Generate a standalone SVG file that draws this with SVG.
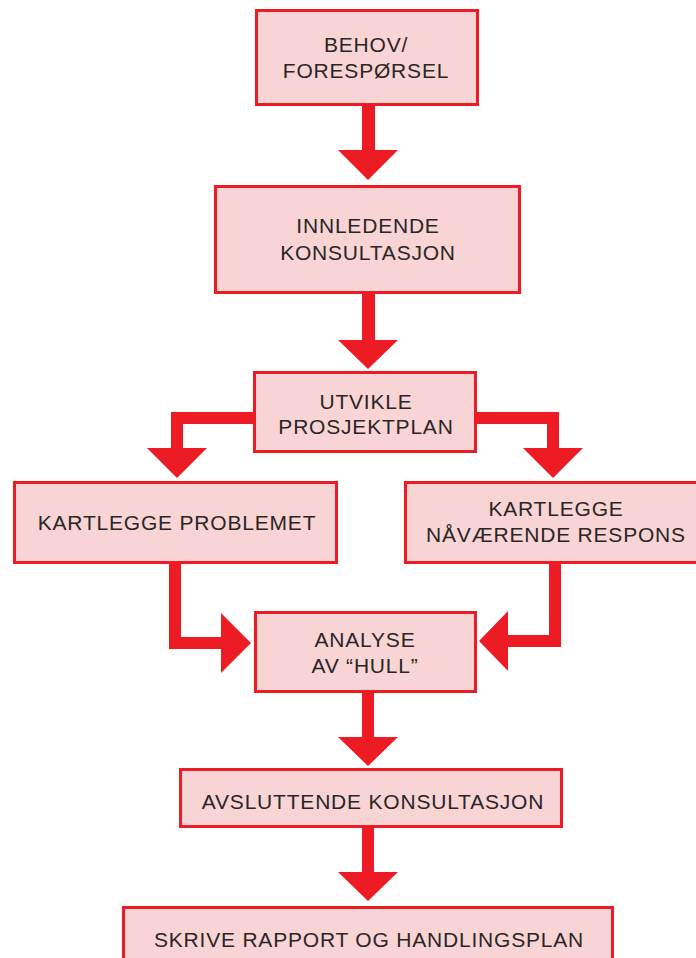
<svg xmlns="http://www.w3.org/2000/svg" width="696" height="958" viewBox="0 0 696 958">
<style>
.box{fill:#f9d4d4;stroke:#ed1c24;stroke-width:3}
.arr{fill:#ed1c24}
text{font-family:"Liberation Sans",Arial,sans-serif;font-size:21px;fill:#2a2627;text-anchor:middle;letter-spacing:0.8px}
</style>
<rect width="696" height="958" fill="#ffffff"/>
<g id="connectors">
<polygon class="arr" points="362,105 375,105 375,150 398,150 368,180 338,150 362,150"/>
<polygon class="arr" points="362,293 375,293 375,340 398,340 368,369 338,340 362,340"/>
<polygon class="arr" points="254,412 171,412 171,448 147,448 177,478 207,448 183,448 183,424 254,424"/>
<polygon class="arr" points="476,412 559,412 559,448 583,448 553,478 523,448 547,448 547,424 476,424"/>
<polygon class="arr" points="169,564 181,564 181,637 221,637 221,613 251,643 221,673 221,649 169,649"/>
<polygon class="arr" points="561,564 549,564 549,635 508,635 508,611 479,641 508,671 508,647 561,647"/>
<polygon class="arr" points="362,692 374,692 374,737 398,737 368,766 338,737 362,737"/>
<polygon class="arr" points="362,827 374,827 374,872 398,872 368,901 338,872 362,872"/>
</g>
<g id="n1"><rect class="box" x="256.5" y="10.5" width="221" height="94"/>
<text x="366" y="52">BEHOV/</text><text x="366" y="78">FORESPØRSEL</text></g>
<g id="n2"><rect class="box" x="215.5" y="186.5" width="304" height="106"/>
<text x="368" y="233">INNLEDENDE</text><text x="368" y="260">KONSULTASJON</text></g>
<g id="n3"><rect class="box" x="254.5" y="372.5" width="221" height="79"/>
<text x="366" y="409">UTVIKLE</text><text x="366" y="434">PROSJEKTPLAN</text></g>
<g id="n4"><rect class="box" x="14.5" y="482.5" width="322" height="80"/>
<text x="177" y="530">KARTLEGGE PROBLEMET</text></g>
<g id="n5"><rect class="box" x="405.5" y="482.5" width="296" height="80"/>
<text x="556" y="516">KARTLEGGE</text><text x="556" y="542">NÅVÆRENDE RESPONS</text></g>
<g id="n6"><rect class="box" x="255.5" y="612.5" width="220" height="79"/>
<text x="365" y="647">ANALYSE</text><text x="365" y="673">AV “HULL”</text></g>
<g id="n7"><rect class="box" x="180.5" y="769.5" width="381" height="57"/>
<text x="373" y="809">AVSLUTTENDE KONSULTASJON</text></g>
<g id="n8"><rect class="box" x="123.5" y="907.5" width="489" height="70"/>
<text x="369" y="947">SKRIVE RAPPORT OG HANDLINGSPLAN</text></g>
</svg>
